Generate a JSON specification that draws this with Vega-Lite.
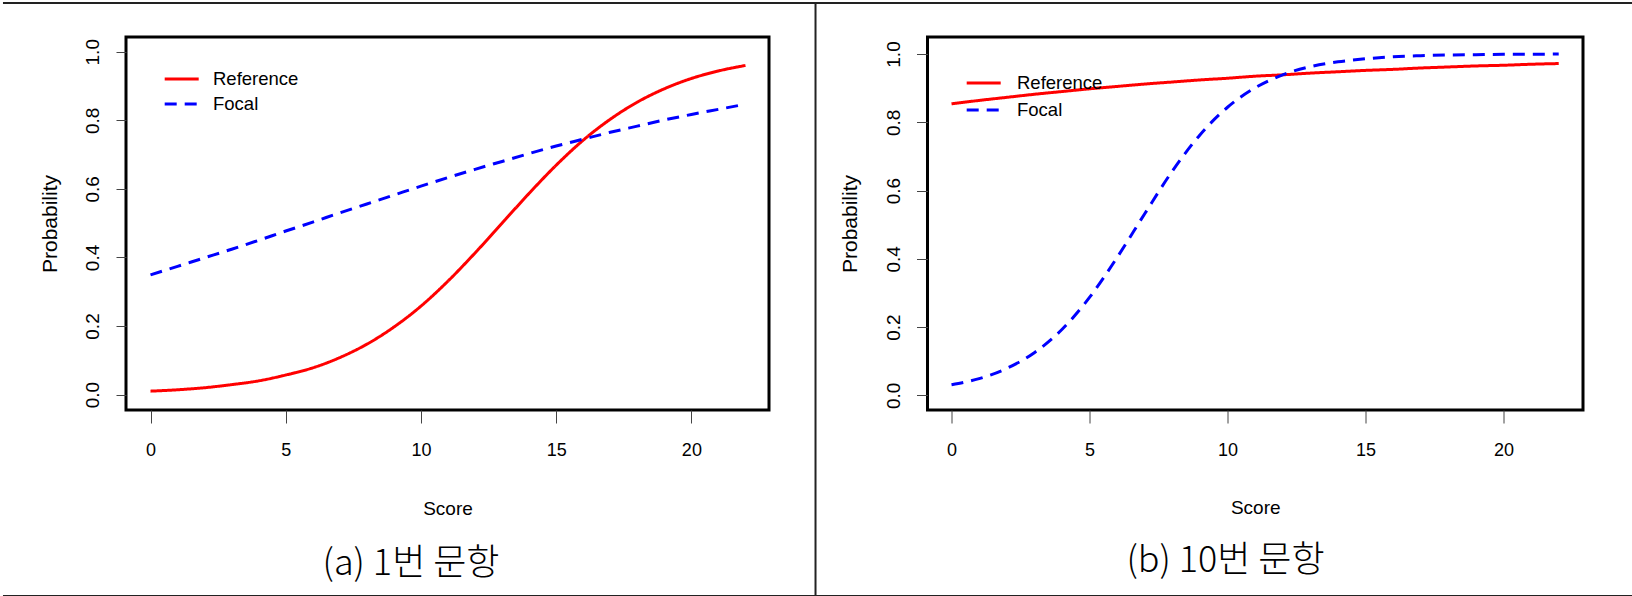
{
  "$schema": "https://vega.github.io/schema/vega-lite/v6.json",
  "padding": 0,
  "background": "white",
  "spacing": 158.5,
  "bounds": "flush",
  "datasets": {
    "itemA": [
      {"score": 0, "prob": 0.010, "group": "Reference"}, {"score": 1, "prob": 0.014, "group": "Reference"}, {"score": 2, "prob": 0.020, "group": "Reference"}, {"score": 3, "prob": 0.029, "group": "Reference"}, {"score": 4, "prob": 0.040, "group": "Reference"}, {"score": 5, "prob": 0.057, "group": "Reference"}, {"score": 6, "prob": 0.078, "group": "Reference"}, {"score": 7, "prob": 0.108, "group": "Reference"}, {"score": 8, "prob": 0.147, "group": "Reference"}, {"score": 9, "prob": 0.197, "group": "Reference"}, {"score": 10, "prob": 0.258, "group": "Reference"}, {"score": 11, "prob": 0.331, "group": "Reference"}, {"score": 12, "prob": 0.413, "group": "Reference"}, {"score": 13, "prob": 0.500, "group": "Reference"}, {"score": 14, "prob": 0.587, "group": "Reference"}, {"score": 15, "prob": 0.669, "group": "Reference"}, {"score": 16, "prob": 0.742, "group": "Reference"}, {"score": 17, "prob": 0.803, "group": "Reference"}, {"score": 18, "prob": 0.853, "group": "Reference"}, {"score": 19, "prob": 0.892, "group": "Reference"}, {"score": 20, "prob": 0.922, "group": "Reference"}, {"score": 21, "prob": 0.944, "group": "Reference"}, {"score": 22, "prob": 0.960, "group": "Reference"},
      {"score": 0, "prob": 0.349, "group": "Focal"}, {"score": 1, "prob": 0.374, "group": "Focal"}, {"score": 2, "prob": 0.399, "group": "Focal"}, {"score": 3, "prob": 0.424, "group": "Focal"}, {"score": 4, "prob": 0.450, "group": "Focal"}, {"score": 5, "prob": 0.477, "group": "Focal"}, {"score": 6, "prob": 0.503, "group": "Focal"}, {"score": 7, "prob": 0.530, "group": "Focal"}, {"score": 8, "prob": 0.556, "group": "Focal"}, {"score": 9, "prob": 0.582, "group": "Focal"}, {"score": 10, "prob": 0.608, "group": "Focal"}, {"score": 11, "prob": 0.633, "group": "Focal"}, {"score": 12, "prob": 0.657, "group": "Focal"}, {"score": 13, "prob": 0.680, "group": "Focal"}, {"score": 14, "prob": 0.703, "group": "Focal"}, {"score": 15, "prob": 0.725, "group": "Focal"}, {"score": 16, "prob": 0.745, "group": "Focal"}, {"score": 17, "prob": 0.765, "group": "Focal"}, {"score": 18, "prob": 0.783, "group": "Focal"}, {"score": 19, "prob": 0.801, "group": "Focal"}, {"score": 20, "prob": 0.817, "group": "Focal"}, {"score": 21, "prob": 0.832, "group": "Focal"}, {"score": 22, "prob": 0.847, "group": "Focal"}
    ],
    "itemB": [
      {"score": 0, "prob": 0.854, "group": "Reference"}, {"score": 1, "prob": 0.864, "group": "Reference"}, {"score": 2, "prob": 0.873, "group": "Reference"}, {"score": 3, "prob": 0.882, "group": "Reference"}, {"score": 4, "prob": 0.890, "group": "Reference"}, {"score": 5, "prob": 0.898, "group": "Reference"}, {"score": 6, "prob": 0.905, "group": "Reference"}, {"score": 7, "prob": 0.912, "group": "Reference"}, {"score": 8, "prob": 0.918, "group": "Reference"}, {"score": 9, "prob": 0.924, "group": "Reference"}, {"score": 10, "prob": 0.929, "group": "Reference"}, {"score": 11, "prob": 0.935, "group": "Reference"}, {"score": 12, "prob": 0.939, "group": "Reference"}, {"score": 13, "prob": 0.944, "group": "Reference"}, {"score": 14, "prob": 0.948, "group": "Reference"}, {"score": 15, "prob": 0.952, "group": "Reference"}, {"score": 16, "prob": 0.955, "group": "Reference"}, {"score": 17, "prob": 0.959, "group": "Reference"}, {"score": 18, "prob": 0.962, "group": "Reference"}, {"score": 19, "prob": 0.965, "group": "Reference"}, {"score": 20, "prob": 0.967, "group": "Reference"}, {"score": 21, "prob": 0.970, "group": "Reference"}, {"score": 22, "prob": 0.972, "group": "Reference"},
      {"score": 0, "prob": 0.031, "group": "Focal"}, {"score": 1, "prob": 0.049, "group": "Focal"}, {"score": 2, "prob": 0.079, "group": "Focal"}, {"score": 3, "prob": 0.125, "group": "Focal"}, {"score": 4, "prob": 0.193, "group": "Focal"}, {"score": 5, "prob": 0.287, "group": "Focal"}, {"score": 6, "prob": 0.404, "group": "Focal"}, {"score": 7, "prob": 0.532, "group": "Focal"}, {"score": 8, "prob": 0.657, "group": "Focal"}, {"score": 9, "prob": 0.763, "group": "Focal"}, {"score": 10, "prob": 0.844, "group": "Focal"}, {"score": 11, "prob": 0.901, "group": "Focal"}, {"score": 12, "prob": 0.939, "group": "Focal"}, {"score": 13, "prob": 0.963, "group": "Focal"}, {"score": 14, "prob": 0.977, "group": "Focal"}, {"score": 15, "prob": 0.986, "group": "Focal"}, {"score": 16, "prob": 0.992, "group": "Focal"}, {"score": 17, "prob": 0.995, "group": "Focal"}, {"score": 18, "prob": 0.997, "group": "Focal"}, {"score": 19, "prob": 0.998, "group": "Focal"}, {"score": 20, "prob": 0.999, "group": "Focal"}, {"score": 21, "prob": 0.999, "group": "Focal"}, {"score": 22, "prob": 1.000, "group": "Focal"}
    ],
    "frame": [
      {"x": -5.455, "x2": 54.826, "y": 1.1422, "y2": 1.1422},
      {"x": -5.455, "x2": 54.826, "y": -0.5877, "y2": -0.5877},
      {"x": 24.59, "x2": 24.59, "y": 1.1422, "y2": -0.5877}
    ]
  },
  "config": {
    "view": {"stroke": "#000000", "strokeWidth": 3},
    "axis": {"grid": false, "domain": false, "labelColor": "#000000", "titleColor": "#000000", "titleFontWeight": "normal", "tickColor": "#444444", "tickWidth": 1, "labelOverlap": false, "labelFlush": false},
    "legend": {"symbolType": "M-1.889,0H1.889", "symbolSize": 324, "symbolStrokeWidth": 3, "labelFont": "Liberation Sans, Arial, sans-serif", "labelFontSize": 18.5, "labelColor": "#000000", "padding": 0}
  },
  "resolve": {
    "scale": {"color": "independent", "strokeDash": "independent"},
    "legend": {"color": "independent", "strokeDash": "independent"}
  },
  "hconcat": [
    {
      "width": 643,
      "height": 373,
      "title": {"text": "(a) 1번 문항", "orient": "bottom", "frame": "group", "anchor": "middle", "dx": -36.5, "offset": -50.5, "font": "Noto Sans CJK KR", "fontSize": 36, "fontWeight": 300, "color": "#000000"},
      "layer": [
        {
          "data": {"name": "frame"},
          "mark": {"type": "rule", "clip": false, "color": "#222222", "strokeWidth": 2},
          "encoding": {
            "x": {"field": "x", "type": "quantitative", "title": "Score"},
            "x2": {"field": "x2"},
            "y": {"field": "y", "type": "quantitative", "title": "Probability"},
            "y2": {"field": "y2"}
          }
        },
        {
          "data": {"name": "itemA"},
          "mark": {"type": "line", "strokeWidth": 3, "interpolate": "monotone", "strokeCap": "butt"},
          "encoding": {
            "x": {"field": "score", "type": "quantitative", "title": "Score",
              "scale": {"domain": [-0.906, 22.87], "nice": false, "zero": false},
              "axis": {"values": [0, 5, 10, 15, 20], "tickSize": 13, "labelFont": "Liberation Sans, Arial, sans-serif", "labelFontSize": 18, "labelPadding": 32, "labelBaseline": "alphabetic", "titleFont": "Liberation Sans, Arial, sans-serif", "titleFontSize": 19, "titleBaseline": "alphabetic", "titleY": 104.5}},
            "y": {"field": "prob", "type": "quantitative", "title": "Probability",
              "scale": {"domain": [-0.045, 1.043], "nice": false, "zero": false},
              "axis": {"values": [0, 0.2, 0.4, 0.6, 0.8, 1.0], "format": ".1f", "tickSize": 10, "labelAngle": 270, "labelAlign": "center", "labelBaseline": "alphabetic", "labelPadding": 17.5, "labelFont": "Liberation Sans, Arial, sans-serif", "labelFontSize": 19, "titleFont": "Liberation Sans, Arial, sans-serif", "titleFontSize": 21, "titleAngle": 270, "titleAlign": "center", "titleBaseline": "alphabetic", "titleX": -70, "titleY": 186.5}},
            "color": {"field": "group", "type": "nominal",
              "scale": {"domain": ["Reference", "Focal"], "range": ["#ff0000", "#0000ff"]},
              "legend": {"title": null, "orient": "none", "legendX": 45.2, "legendY": 31.5, "rowPadding": 5, "labelOffset": 20.8}},
            "strokeDash": {"field": "group", "type": "nominal",
              "scale": {"domain": ["Reference", "Focal"], "range": [[1, 0], [12, 8]]},
              "legend": {"title": null, "orient": "none", "legendX": 45.2, "legendY": 31.5, "rowPadding": 5, "labelOffset": 20.8}}
          }
        }
      ]
    },
    {
      "width": 655.5,
      "height": 373,
      "title": {"text": "(b) 10번 문항", "orient": "bottom", "frame": "group", "anchor": "middle", "dx": -29.75, "offset": 26.5, "font": "Noto Sans CJK KR", "fontSize": 36, "fontWeight": 300, "color": "#000000"},
      "layer": [
        {
          "data": {"name": "itemB"},
          "mark": {"type": "line", "strokeWidth": 3, "interpolate": "monotone", "strokeCap": "butt"},
          "encoding": {
            "x": {"field": "score", "type": "quantitative", "title": "Score",
              "scale": {"domain": [-0.87, 22.88], "nice": false, "zero": false},
              "axis": {"values": [0, 5, 10, 15, 20], "tickSize": 13, "labelFont": "Liberation Sans, Arial, sans-serif", "labelFontSize": 18, "labelPadding": 32, "labelBaseline": "alphabetic", "titleFont": "Liberation Sans, Arial, sans-serif", "titleFontSize": 19, "titleBaseline": "alphabetic", "titleY": 103.5}},
            "y": {"field": "prob", "type": "quantitative", "title": "Probability",
              "scale": {"domain": [-0.0428, 1.0498], "nice": false, "zero": false},
              "axis": {"values": [0, 0.2, 0.4, 0.6, 0.8, 1.0], "format": ".1f", "tickSize": 11, "labelAngle": 270, "labelAlign": "center", "labelBaseline": "alphabetic", "labelPadding": 17.5, "labelFont": "Liberation Sans, Arial, sans-serif", "labelFontSize": 19, "titleFont": "Liberation Sans, Arial, sans-serif", "titleFontSize": 21, "titleAngle": 270, "titleAlign": "center", "titleBaseline": "alphabetic", "titleX": -71.5, "titleY": 186.5}},
            "color": {"field": "group", "type": "nominal",
              "scale": {"domain": ["Reference", "Focal"], "range": ["#ff0000", "#0000ff"]},
              "legend": {"title": null, "orient": "none", "legendX": 45.7, "legendY": 35.5, "rowPadding": 7, "labelOffset": 22.8}},
            "strokeDash": {"field": "group", "type": "nominal",
              "scale": {"domain": ["Reference", "Focal"], "range": [[1, 0], [12, 8]]},
              "legend": {"title": null, "orient": "none", "legendX": 45.7, "legendY": 35.5, "rowPadding": 7, "labelOffset": 22.8}}
          }
        }
      ]
    }
  ]
}
